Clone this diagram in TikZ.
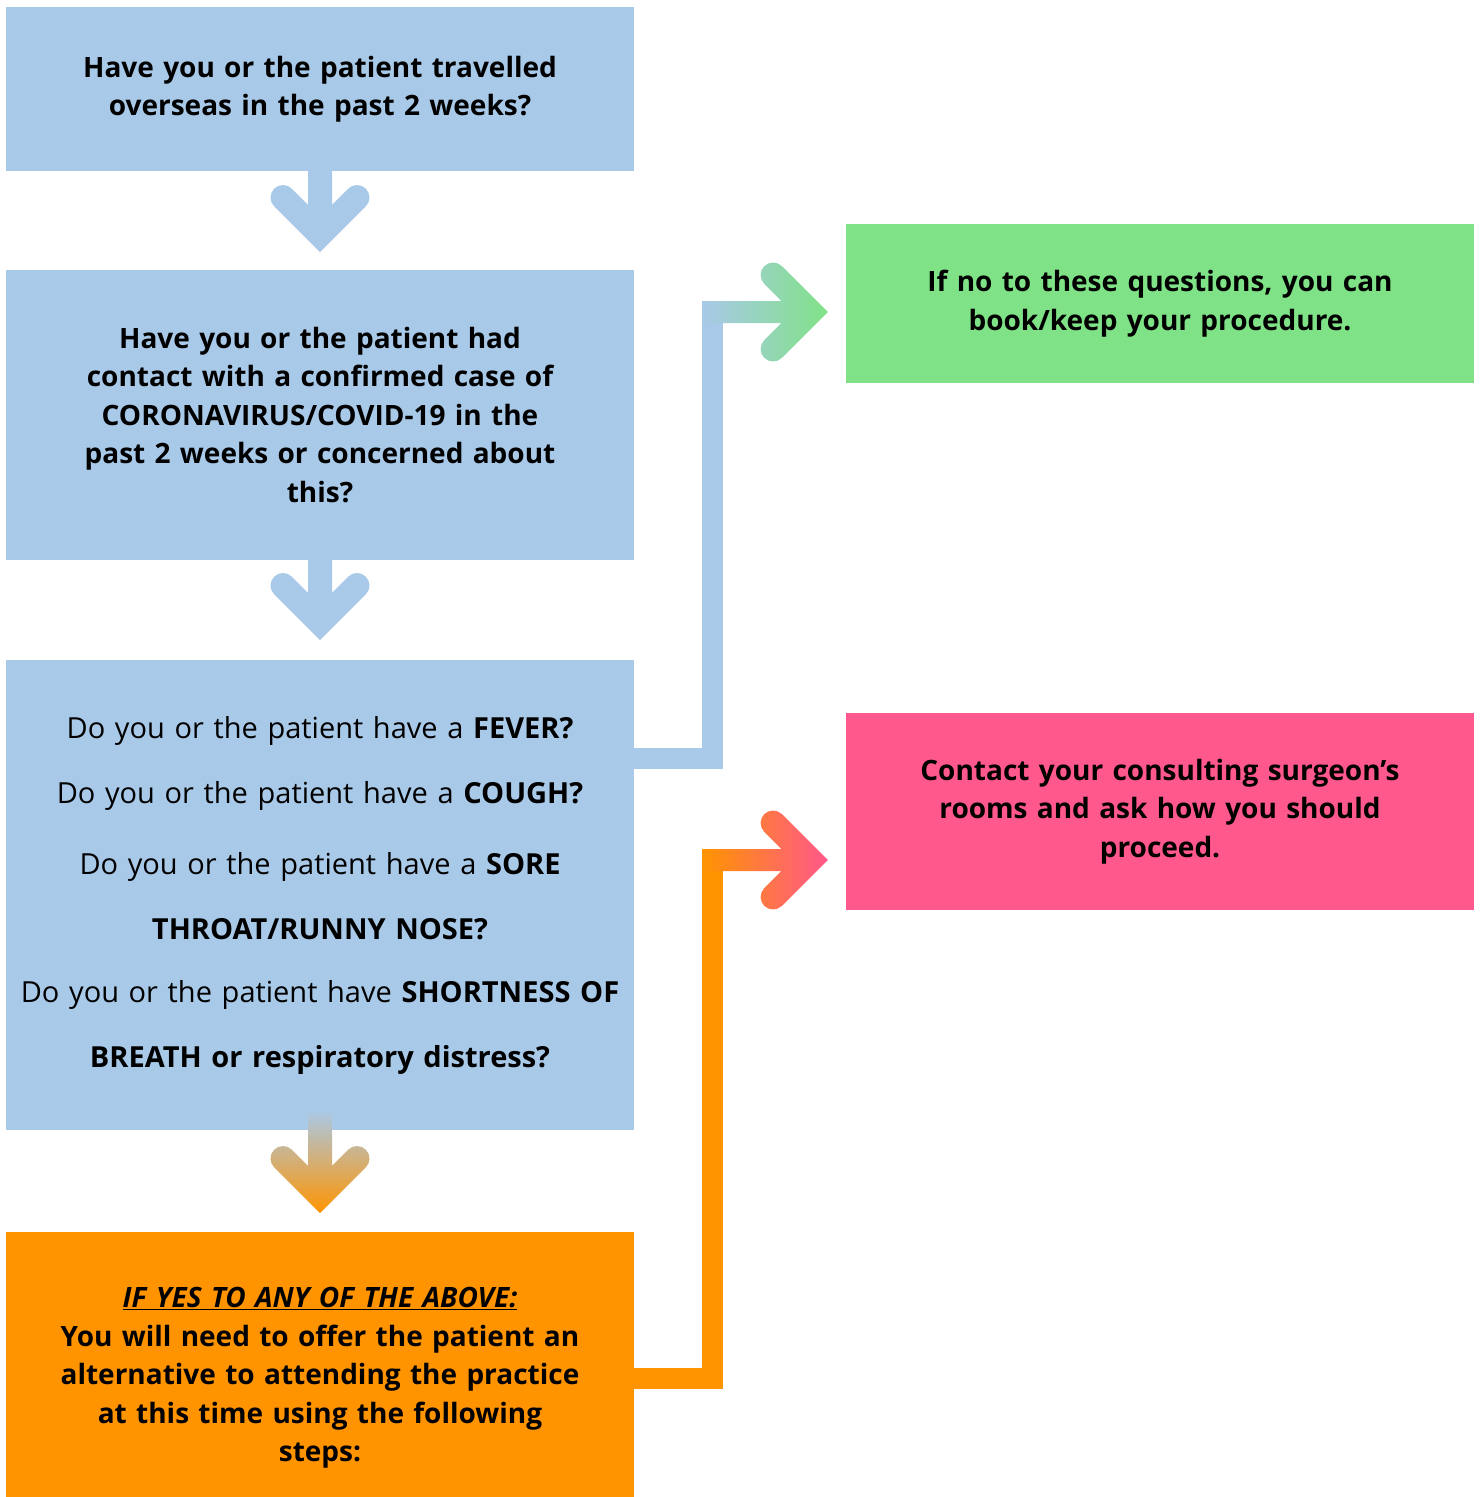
\documentclass[tikz,border=0pt]{standalone}
\usepackage{fontspec}
\setmainfont{Open Sans}
\usetikzlibrary{positioning}
\definecolor{flowBlue}{HTML}{A9C9E8}
\definecolor{flowGreen}{HTML}{80E287}
\definecolor{flowPink}{HTML}{FF588C}
\definecolor{flowOrange}{HTML}{FF9400}
\tikzset{
  every picture/.style={font=\fontsize{28}{38.5}\selectfont\bfseries, text=black},
  flow box/.style={inner sep=0pt, align=center, minimum width=628,
    text width=620},
  flow link/.style={line width=21pt, line cap=butt}
}
% chevron heads: tip coordinate, stem length back from the tip
\newcommand{\rightchevron}[3][]{%
  \path[#1, shift={(#2)}] (0,0) -- (-45.84,-45.84)
    arc[start angle=315, end angle=135, radius=12.5] -- (-46.36,-11)
    -- (-#3,-11) -- (-#3,11) -- (-46.36,11) -- (-63.52,28.16)
    arc[start angle=225, end angle=45, radius=12.5] -- cycle;}
\newcommand{\downchevron}[3][]{%
  \path[#1, shift={(#2)}] (0,0) -- (-45.84,-45.84)
    arc[start angle=-225, end angle=-45, radius=12.5] -- (-12,-47.36)
    -- (-12,-#3) -- (12,-#3) -- (12,-47.36) -- (28.16,-63.52)
    arc[start angle=-135, end angle=45, radius=12.5] -- cycle;}
\begin{document}
\begin{tikzpicture}[x=1pt,y=-1pt]
  \useasboundingbox (0,0) rectangle (1483,1497);
  % question column
  \node[flow box, fill=flowBlue, minimum height=164] (travel) at (320,89)
    {Have you or the patient travelled\\overseas in the past 2 weeks?};
  \node[flow box, fill=flowBlue, minimum height=290] (contact) at (320,415)
    {Have you or the patient had\\contact with a confirmed case of\\CORONAVIRUS/COVID-19 in the\\past 2 weeks or concerned about\\this?};
  \node[flow box, fill=flowBlue, minimum height=470,
    font=\fontsize{29}{65}\selectfont\mdseries] (symptoms) at (320,895)
    {Do you or the patient have a \textbf{FEVER?}\\
     Do you or the patient have a \textbf{COUGH?}\\[6pt]
     Do you or the patient have a \textbf{SORE}\\
     \textbf{THROAT/RUNNY NOSE?}\\[-2pt]
     Do you or the patient have \textbf{SHORTNESS OF}\\
     \textbf{BREATH or respiratory distress?}};
  \node[flow box, fill=flowOrange, minimum height=292] (ifyes) at (320,1378)
    {\underline{\textit{IF YES TO ANY OF THE ABOVE:}}\\You will need to offer the patient an\\alternative to attending the practice\\at this time using the following\\steps:};
  % outcomes
  \node[flow box, fill=flowGreen, minimum height=159] (book) at (1160,303.5)
    {If no to these questions, you can\\book/keep your procedure.};
  \node[flow box, fill=flowPink, minimum height=197] (call) at (1160,811.5)
    {Contact your consulting surgeon’s\\rooms and ask how you should\\proceed.};

  \coordinate (bookTip) at ([xshift=-18pt,yshift=-8.5pt]book.west);
  \coordinate (callTip) at ([xshift=-18pt,yshift=-48.5pt]call.west);

  % down arrows
  \downchevron[fill=flowBlue]{[yshift=-81pt]travel.south}{81}
  \downchevron[fill=flowBlue]{[yshift=-80pt]contact.south}{80}
  \downchevron[top color=flowBlue, bottom color=flowOrange]{[yshift=-83pt]symptoms.south}{103}

  % side links
  \draw[flow link, flowBlue] ([yshift=137pt]symptoms.east) -| ([xshift=-115pt]bookTip);
  \rightchevron[left color=flowBlue, right color=flowGreen]{bookTip}{125.5}
  \draw[flow link, flowOrange] (ifyes.east) -| ([xshift=-115pt]callTip);
  \rightchevron[left color=flowOrange, right color=flowPink]{callTip}{125.5}
\end{tikzpicture}
\end{document}
